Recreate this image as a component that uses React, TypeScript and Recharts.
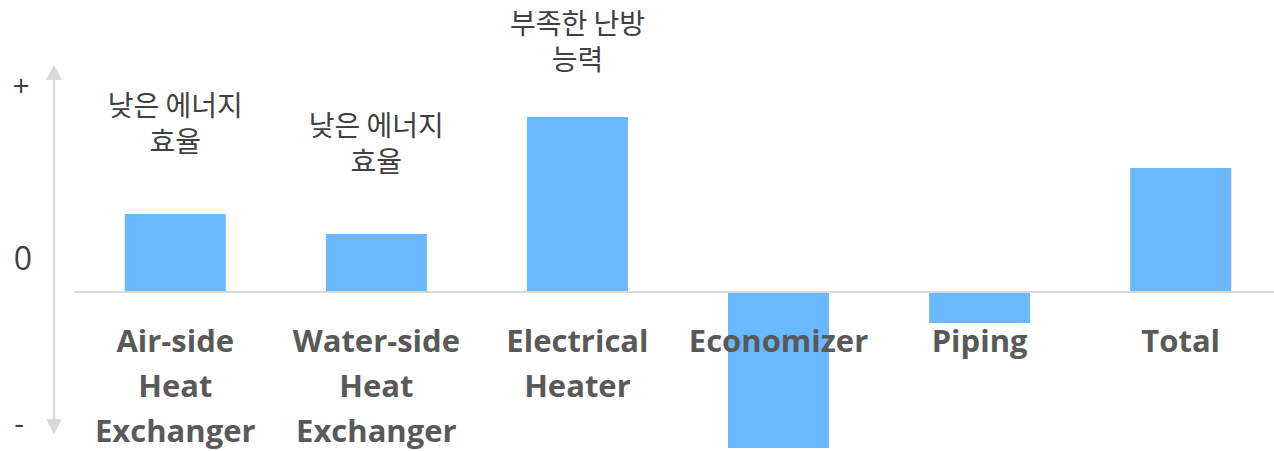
import { BarChart, Bar, XAxis, YAxis, ReferenceLine, LabelList } from 'recharts';

// categories, split into the lines they wrap to
const categories = [
    ['Air-side', 'Heat', 'Exchanger'],
    ['Water-side', 'Heat', 'Exchanger'],
    ['Electrical', 'Heater'],
    ['Economizer'],
    ['Piping'],
    ['Total'],
];

// relative impact (arbitrary units, + above the line, - below)
const impact = [78, 58, 175, -156, -31, 124];

// notes written above some bars
const notes = [
    ['낮은 에너지', '효율'],
    ['낮은 에너지', '효율'],
    ['부족한 난방', '능력'],
    [],
    [],
    [],
];

const data = categories.map((lines, i) => ({
    name: lines.join(' '),
    value: impact[i],
    idx: i,
}));

const BAR_COLOR = '#6AB8FF';
const LABEL_COLOR = '#595959';
const TEXT_COLOR = '#404040';
const AXIS_COLOR = '#D9D9D9';

// category name under the zero line (works for positive and negative bars)
function CategoryLabel(props: any) {
    const { x, y, width, height, value } = props;
    const i = Number(value);
    const base = impact[i] >= 0 ? Math.max(y, y + height) : Math.min(y, y + height);
    const cx = x + width / 2;
    return (
        <text
            x={cx}
            y={base + 48}
            textAnchor="middle"
            dominantBaseline="central"
            fill={LABEL_COLOR}
            style={{ fontFamily: '"Open Sans", sans-serif', fontWeight: 700, fontSize: 31 }}
        >
            {categories[i].map((line, k) => (
                <tspan key={k} x={cx} dy={k === 0 ? 0 : 45}>{line}</tspan>
            ))}
        </text>
    );
}

// korean note above the top of a bar, kept inside the top of the chart
function NoteLabel(props: any) {
    const { x, y, width, height, value } = props;
    const i = Number(value);
    const lines = notes[i];
    if (!lines || lines.length === 0) return null;
    const top = Math.min(y, y + height);
    const cx = x + width / 2;
    const first = Math.max(top - 75 - (lines.length - 1) * 35, 22);
    return (
        <text
            x={cx}
            y={first}
            textAnchor="middle"
            dominantBaseline="central"
            fill={TEXT_COLOR}
            style={{ fontFamily: '"Noto Sans CJK KR", sans-serif', fontSize: 28 }}
        >
            {lines.map((line, k) => (
                <tspan key={k} x={cx} dy={k === 0 ? 0 : 36}>{line}</tspan>
            ))}
        </text>
    );
}

export default function App() {
    return (
        <div style={{ position: 'absolute', left: 0, top: 0, width: 1274, height: 451, overflow: 'hidden', background: '#fff' }}>
            <BarChart
                width={1281}
                height={451}
                data={data}
                margin={{ top: 0, right: 0, bottom: 0, left: 74.5 }}
                barCategoryGap="25%"
            >
                <XAxis dataKey="name" hide />
                <YAxis type="number" domain={[-159, 292]} hide allowDataOverflow />
                <ReferenceLine y={0} stroke={AXIS_COLOR} strokeWidth={2} />
                <Bar dataKey="value" fill={BAR_COLOR} isAnimationActive={false}>
                    <LabelList dataKey="idx" content={CategoryLabel} />
                    <LabelList dataKey="idx" content={NoteLabel} />
                </Bar>
            </BarChart>
            {/* +/- arrow axis drawn beside the chart */}
            <svg width={80} height={451} style={{ position: 'absolute', left: 0, top: 0 }}>
                <line x1={54} y1={76} x2={54} y2={422} stroke={AXIS_COLOR} strokeWidth={2.5} />
                <polygon points="54,65 46,80 62,80" fill={AXIS_COLOR} />
                <polygon points="54,434 46,419 62,419" fill={AXIS_COLOR} />
                <g fill={TEXT_COLOR} style={{ fontFamily: '"Open Sans", sans-serif' }}>
                    <text x={21} y={84} textAnchor="middle" dominantBaseline="central" fontSize={30}>+</text>
                    <text x={23} y={257} textAnchor="middle" dominantBaseline="central" fontSize={32}>0</text>
                    <text x={19} y={422} textAnchor="middle" dominantBaseline="central" fontSize={30}>-</text>
                </g>
            </svg>
        </div>
    );
}
